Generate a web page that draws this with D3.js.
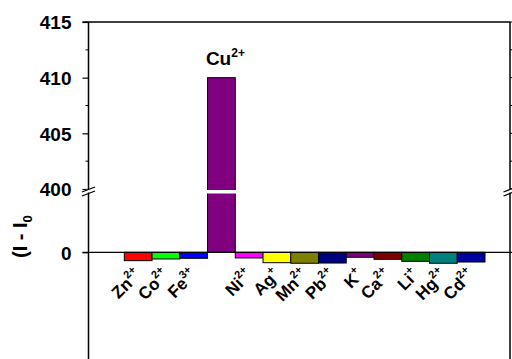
<!DOCTYPE html>
<html>
<head>
<meta charset="utf-8">
<script src="https://cdn.jsdelivr.net/npm/d3@7"></script>
<style>
  html, body { margin: 0; padding: 0; background: #fff; }
  svg { display: block; font-family: "Liberation Sans", Arial, sans-serif; font-weight: bold; }
</style>
</head>
<body>
<svg id="chart" width="512" height="359"></svg>
<script>
// Metal ions (element symbol + charge) and their response (I - I0)
const ions    = ["Zn", "Co", "Fe", "Cu", "Ni", "Ag", "Mn", "Pb", "K", "Ca", "Li", "Hg", "Cd"];
const charges = ["2+", "2+", "3+", "2+", "2+", "+", "2+", "2+", "+", "2+", "+", "2+", "2+"];
const values  = [-7.4, -5.9, -5.3, 410, -5.0, -9.2, -9.7, -9.5, -4.4, -6.2, -8.0, -9.7, -8.6];
const colors  = ["#ff0000", "#00ff00", "#0000ff", "#800080", "#ff00ff", "#ffff00", "#808000",
                 "#000080", "#800080", "#800000", "#008000", "#008080", "#0000a0"];
const upperTicks = [400, 405, 410, 415];
const upperMinor = [402.5, 407.5, 412.5];
const lowerTicks = [0];

const svg = d3.select("#chart");
const plotLeft = 88.5, plotRight = 510, plotTop = 22, plotBottom = 359;
const breakY = 191.5;

// Broken y axis: upper segment 400–415, lower segment around 0
const yUp  = d3.scaleLinear().domain([400, 415]).range([189, plotTop]);
const yLow = d3.scaleLinear().domain([-100, 0]).range([365.3, 252.3]);
const x = d3.scaleBand().domain(ions).range([124.3, 485]).padding(0);

// Bars
ions.forEach((ion, i) => {
  const v = values[i];
  const g = svg.append("g");
  if (v >= 400) {
    const yTop = yUp(v), yBase = yLow(0);
    g.append("rect").attr("x", x(ion)).attr("y", yTop)
      .attr("width", x.bandwidth()).attr("height", yBase - yTop)
      .attr("fill", colors[i]).attr("stroke", "#000").attr("stroke-width", 1);
    // gap across the axis break
    g.append("rect").attr("x", x(ion) - 1).attr("y", breakY - 1.5)
      .attr("width", x.bandwidth() + 2).attr("height", 3.5).attr("fill", "#fff");
    // label above the bar
    const t = svg.append("text").attr("x", x(ion) + x.bandwidth() / 2 + 4)
      .attr("y", yTop - 13).attr("text-anchor", "middle").attr("font-size", 19);
    t.append("tspan").text(ion);
    t.append("tspan").attr("font-size", 12).attr("dy", -8).text(charges[i]);
  } else {
    g.append("rect").attr("x", x(ion)).attr("y", yLow(0))
      .attr("width", x.bandwidth()).attr("height", yLow(v) - yLow(0))
      .attr("fill", colors[i]).attr("stroke", "#000").attr("stroke-width", 1);
    // rotated category label under the bar
    const cx = x(ion) + x.bandwidth() / 2 + 4, cy = 276;
    const t = svg.append("text").attr("text-anchor", "end").attr("font-size", 17)
      .attr("transform", `translate(${cx},${cy}) rotate(-45)`);
    t.append("tspan").text(ion);
    t.append("tspan").attr("font-size", 11).attr("dy", -8).text(charges[i]);
  }
});

// Zero baseline across the plot
svg.append("line").attr("x1", plotLeft - 6).attr("x2", plotRight + 2)
  .attr("y1", yLow(0)).attr("y2", yLow(0)).attr("stroke", "#000").attr("stroke-width", 1.2);

// Frame: top border and the two vertical axes
svg.append("line").attr("x1", plotLeft - 6).attr("x2", plotRight)
  .attr("y1", plotTop).attr("y2", plotTop).attr("stroke", "#000").attr("stroke-width", 1.5);
[plotLeft, plotRight].forEach(ax => {
  svg.append("line").attr("x1", ax).attr("x2", ax).attr("y1", plotTop).attr("y2", plotBottom)
    .attr("stroke", "#000").attr("stroke-width", 1.5);
});

// Left axis ticks and labels
const axisUp = d3.axisLeft(yUp).tickValues(upperTicks).tickSize(6).tickFormat(d3.format("d"));
const gUp = svg.append("g").attr("transform", `translate(${plotLeft},0)`).call(axisUp);
const axisLow = d3.axisLeft(yLow).tickValues(lowerTicks).tickSize(6).tickFormat(d3.format("d"));
const gLow = svg.append("g").attr("transform", `translate(${plotLeft},0)`).call(axisLow);
[gUp, gLow].forEach(g => {
  g.select(".domain").remove();
  g.selectAll(".tick line").attr("stroke", "#000").attr("stroke-width", 1.2);
  g.selectAll(".tick text").attr("font-size", 19).attr("font-family", "Liberation Sans, Arial, sans-serif")
    .attr("font-weight", "bold").attr("fill", "#000").attr("x", -17).attr("dy", "0.36em");
});
svg.append("g").selectAll("line").data(upperMinor).join("line")
  .attr("x1", plotLeft - 3).attr("x2", plotLeft).attr("y1", d => yUp(d)).attr("y2", d => yUp(d))
  .attr("stroke", "#000").attr("stroke-width", 1);

// Right axis small ticks
svg.append("g").selectAll("line").data(upperTicks.concat(upperMinor)).join("line")
  .attr("x1", plotRight).attr("x2", plotRight + 3).attr("y1", d => yUp(d)).attr("y2", d => yUp(d))
  .attr("stroke", "#000").attr("stroke-width", 1);

// Axis break marks
[plotLeft, plotRight].forEach(ax => {
  svg.append("rect").attr("x", ax - 2).attr("y", breakY - 2).attr("width", 4).attr("height", 3)
    .attr("fill", "#fff");
  [-2, 2].forEach(off => {
    svg.append("line").attr("x1", ax - 6.5).attr("x2", ax + 6.5)
      .attr("y1", breakY + off + 2.5).attr("y2", breakY + off - 2.5)
      .attr("stroke", "#000").attr("stroke-width", 1.2);
  });
});

// Y axis title
const yt = svg.append("text").attr("font-size", 20)
  .attr("transform", "translate(27,258) rotate(-90)");
yt.append("tspan").text("(I - I");
yt.append("tspan").attr("font-size", 13).attr("dy", 5).text("0");
</script>
</body>
</html>
